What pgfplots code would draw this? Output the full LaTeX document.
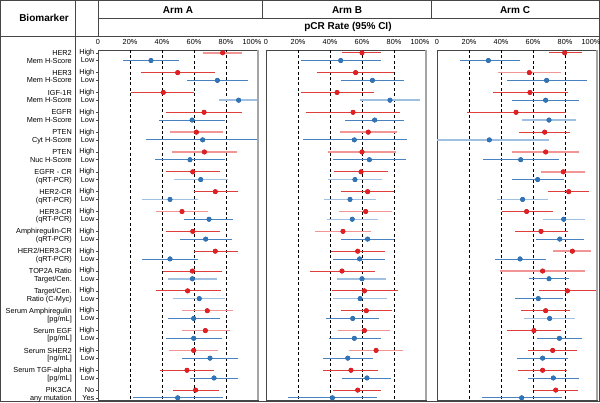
\documentclass[border=0pt]{standalone}
\usepackage{fontspec}
\setmainfont{Liberation Sans}
\usepackage{pgfplots}
\pgfplotsset{compat=1.18}
\usepackage{pgfplotstable}

\definecolor{rdot}{RGB}{226,32,36}
\definecolor{rline}{RGB}{224,62,58}
\definecolor{rlight}{RGB}{241,150,148}
\definecolor{bdot}{RGB}{48,117,185}
\definecolor{bline}{RGB}{72,130,192}
\definecolor{blight}{RGB}{160,192,226}
\definecolor{frame}{RGB}{70,70,70}
\definecolor{edge}{RGB}{165,165,165}

\newcommand{\tf}{\fontsize{7.3}{8}\selectfont}
\newcommand{\hf}{\fontsize{10}{12}\selectfont\bfseries}

% g = biomarker index, est = pCR rate, lo/hi = 95% CI, s = light line (1) or dark (0)
\pgfplotstableread{
g est lo hi s
0 77.9 65.8 89.8 1
1 49.8 26.9 73.1 0
2 40.8 20.4 60.0 0
3 66.3 42.5 89.8 0
4 61.5 45.0 77.9 1
5 66.5 46.3 86.7 1
6 59.2 42.5 76.3 0
7 73.3 60.0 87.3 0
8 52.5 36.3 68.5 1
9 59.2 42.5 76.3 0
10 73.3 60.2 87.3 0
11 59.0 40.4 77.5 0
12 56.0 36.3 76.7 0
13 68.3 52.5 84.6 1
14 67.1 52.3 82.5 1
15 59.8 44.6 74.8 1
16 55.6 38.8 72.3 0
17 61.0 47.1 75.6 0
}\AHigh
\pgfplotstableread{
g est lo hi s
0 33.1 15.4 50.8 0
1 74.6 55.8 93.5 0
2 87.9 75.8 99.2 1
3 58.8 38.1 79.6 0
4 65.4 30.0 100 0
5 57.5 35.8 79.6 0
6 64.2 47.5 81.0 1
7 45.0 27.7 62.3 1
8 69.4 53.9 84.6 0
9 67.3 51.3 83.5 0
10 45.0 27.7 62.3 0
11 59.0 43.5 74.2 1
12 63.3 47.1 79.4 1
13 59.8 43.5 76.0 0
14 59.8 42.5 77.5 0
15 70.0 52.7 87.3 0
16 72.5 57.5 87.7 0
17 49.8 21.7 77.9 0
}\ALow
\pgfplotstableread{
g est lo hi s
0 60.0 47.3 71.9 0
1 56.0 32.1 79.8 0
2 44.4 21.9 67.3 0
3 54.4 25.0 83.8 0
4 63.9 46.5 81.7 1
5 60.0 38.5 81.0 1
6 59.4 42.3 76.0 0
7 63.5 46.9 79.8 0
8 62.3 45.6 79.0 1
9 48.1 30.6 65.6 1
10 57.3 40.4 74.2 0
11 47.5 27.5 68.1 0
12 61.5 41.0 82.3 0
13 62.7 46.9 78.5 0
14 61.5 45.2 77.5 1
15 68.8 51.9 85.4 1
16 53.1 35.8 70.2 0
17 57.3 42.1 71.7 0
}\BHigh
\pgfplotstableread{
g est lo hi s
0 46.7 21.9 71.9 0
1 66.5 46.9 86.5 0
2 77.5 58.8 96.5 1
3 67.9 49.4 86.0 0
4 55.2 23.3 87.9 0
5 64.6 42.1 87.3 0
6 55.6 39.0 72.3 1
7 52.5 36.3 68.8 1
8 53.9 38.1 69.8 1
9 63.5 46.9 79.8 0
10 58.5 42.1 74.2 0
11 60.0 44.4 74.8 1
12 58.8 41.9 75.4 1
13 54.2 37.7 70.8 0
14 55.2 39.4 71.7 0
15 51.1 35.8 66.7 0
16 63.1 47.7 78.1 0
17 41.5 14.0 69.2 0
}\BLow
\pgfplotstableread{
g est lo hi s
0 79.8 69.8 90.8 0
1 57.7 38.3 77.3 1
2 58.1 34.8 81.7 0
3 49.4 18.5 80.4 0
4 67.3 51.5 83.3 0
5 67.9 46.9 88.8 1
6 78.9 65.2 92.5 1
7 82.3 69.6 95.0 0
8 56.0 40.4 72.3 0
9 65.0 48.8 81.7 0
10 84.6 72.7 96.5 1
11 66.0 39.4 92.5 1
12 81.5 63.5 100 0
13 67.9 52.5 83.3 0
14 60.6 43.5 77.5 0
15 72.3 57.1 87.3 0
16 66.0 50.8 81.3 0
17 74.2 60.8 87.9 0
}\CHigh
\pgfplotstableread{
g est lo hi s
0 32.1 14.4 51.9 0
1 68.5 43.9 93.5 0
2 67.9 46.9 88.8 0
3 70.0 52.9 86.7 1
4 32.7 0.0 70.2 1
5 52.3 28.9 76.0 0
6 62.9 46.9 79.6 0
7 53.5 37.7 69.6 1
8 79.2 66.5 92.7 1
9 76.7 61.9 91.7 0
10 51.9 36.5 67.9 0
11 70.0 57.5 82.5 0
12 63.3 48.8 78.9 0
13 70.4 54.6 86.5 1
14 76.5 62.7 90.6 0
15 66.0 50.2 82.1 0
16 72.7 57.1 88.5 0
17 52.9 27.9 78.1 0
}\CLow

\newcommand{\forestrows}[5]{%
 \addplot[forget plot, only marks, mark=none,
   restrict expr to domain={\thisrow{s}}{-0.5:0.5},
   error bars/.cd, x dir=both, x explicit, error mark=none,
   error bar style={draw=#3, line width=0.8pt}]
   table[x=est, y expr=\thisrow{g}+#2,
     x error plus expr=\thisrow{hi}-\thisrow{est},
     x error minus expr=\thisrow{est}-\thisrow{lo}] {#1};
 \addplot[forget plot, only marks, mark=none,
   restrict expr to domain={\thisrow{s}}{0.5:1.5},
   error bars/.cd, x dir=both, x explicit, error mark=none,
   error bar style={draw=#4, line width=1.5pt}]
   table[x=est, y expr=\thisrow{g}+#2,
     x error plus expr=\thisrow{hi}-\thisrow{est},
     x error minus expr=\thisrow{est}-\thisrow{lo}] {#1};
 \addplot[forget plot, only marks, mark=*, mark size=2.3pt, draw=#5, fill=#5]
   table[x=est, y expr=\thisrow{g}+#2] {#1};
}
\newcommand{\reflines}{%
 \addplot[forget plot, black, line width=0.8pt, dash pattern=on 3pt off 2.4pt] coordinates {(20,-0.14) (20,17.5)};
 \addplot[forget plot, black, line width=0.8pt, dash pattern=on 3pt off 2.4pt] coordinates {(40,-0.14) (40,17.5)};
 \addplot[forget plot, black, line width=0.8pt, dash pattern=on 3pt off 2.4pt] coordinates {(60,-0.14) (60,17.5)};
 \addplot[forget plot, black, line width=0.8pt, dash pattern=on 3pt off 2.4pt] coordinates {(80,-0.14) (80,17.5)};
}
\newcommand{\rightedge}{%
 \draw[edge, line width=1.6pt] (rel axis cs:1,0) -- (rel axis cs:1,1);
}
\newcommand{\bm}[4]{%
 \node[anchor=base east, inner sep=0pt, font=\tf, yshift=-2.6pt, xshift=-26pt] at (axis cs:0,#1) {#3};
 \node[anchor=base east, inner sep=0pt, font=\tf, yshift=-2.6pt, xshift=-26pt] at (axis cs:0,#2) {#4};
}

\pgfplotsset{
 arm/.style={
   width=160pt, height=350pt, scale only axis, anchor=north west,
   xmin=0, xmax=100, ymin=-0.14, ymax=17.5, y dir=reverse,
   xtick={0,20,40,60,80,100},
   xticklabels={0,20\%,40\%,60\%,80\%,{\makebox[0pt][c]{\kern-12pt\relax 100\%}}},
   xticklabel pos=upper, xtick style={draw=none},
   tick align=outside, major tick length=2pt,
   ytick=\empty,
   ticklabel style={font=\tf},
   /pgf/number format/assume math mode=true,
   axis line style={frame, line width=0.6pt},
   clip mode=individual,
 }
}

\begin{document}
\begin{tikzpicture}
\useasboundingbox (0pt,0pt) rectangle (600pt,-402pt);

% table lines
\begin{scope}[frame, line width=0.7pt]
\draw (0.35pt,-0.35pt) rectangle (599.65pt,-401.65pt);
\draw (0pt,-36pt) -- (600pt,-36pt);
\draw (98pt,-18pt) -- (600pt,-18pt);
\draw (75pt,0pt) -- (75pt,-402pt);
\draw (98pt,0pt) -- (98pt,-36pt);
\draw (262pt,0pt) -- (262pt,-18pt);
\draw (431pt,0pt) -- (431pt,-18pt);
\end{scope}

\node[font=\hf] at (44pt,-17.5pt) {Biomarker};
\node[font=\hf] at (178pt,-10pt) {Arm A};
\node[font=\hf] at (347pt,-10pt) {Arm B};
\node[font=\hf] at (515pt,-10pt) {Arm C};
\node[font=\hf] at (348pt,-27pt) {pCR Rate (95\% CI)};

% Arm A
\begin{axis}[arm, at={(98pt,-50pt)},
  ytick={0,0.39,1,1.39,2,2.39,3,3.39,4,4.39,5,5.39,6,6.39,7,7.39,8,8.39,9,9.39,10,10.39,11,11.39,12,12.39,13,13.39,14,14.39,15,15.39,16,16.39,17,17.39},
  yticklabels={High,Low,High,Low,High,Low,High,Low,High,Low,High,Low,High,Low,High,Low,High,Low,High,Low,High,Low,High,Low,High,Low,High,Low,High,Low,High,Low,High,Low,No,Yes},
  ytick pos=left, ytick style={frame, line width=0.5pt},
  yticklabel style={inner sep=1.5pt}]
\reflines
\forestrows{\AHigh}{0}{rline}{rlight}{rdot}
\forestrows{\ALow}{0.39}{bline}{blight}{bdot}
\rightedge
\bm{0}{0.39}{HER2}{Mem H-Score}
\bm{1}{1.39}{HER3}{Mem H-Score}
\bm{2}{2.39}{IGF-1R}{Mem H-Score}
\bm{3}{3.39}{EGFR}{Mem H-Score}
\bm{4}{4.39}{PTEN}{Cyt H-Score}
\bm{5}{5.39}{PTEN}{Nuc H-Score}
\bm{6}{6.39}{EGFR - CR}{(qRT-PCR)}
\bm{7}{7.39}{HER2-CR}{(qRT-PCR)}
\bm{8}{8.39}{HER3-CR}{(qRT-PCR)}
\bm{9}{9.39}{Amphiregulin-CR}{(qRT-PCR)}
\bm{10}{10.39}{HER2/HER3-CR}{(qRT-PCR)}
\bm{11}{11.39}{TOP2A Ratio}{Target/Cen.}
\bm{12}{12.39}{Target/Cen.}{Ratio (C-Myc)}
\bm{13}{13.39}{Serum Amphiregulin}{[pg/mL]}
\bm{14}{14.39}{Serum EGF}{[pg/mL]}
\bm{15}{15.39}{Serum SHER2}{[ng/mL]}
\bm{16}{16.39}{Serum TGF-alpha}{[pg/mL]}
\bm{17}{17.39}{PIK3CA}{any mutation}
\end{axis}

% Arm B
\begin{axis}[arm, at={(266pt,-50pt)}]
\reflines
\forestrows{\BHigh}{0}{rline}{rlight}{rdot}
\forestrows{\BLow}{0.39}{bline}{blight}{bdot}
\rightedge
\end{axis}

% Arm C
\begin{axis}[arm, at={(437pt,-50pt)}]
\reflines
\forestrows{\CHigh}{0}{rline}{rlight}{rdot}
\forestrows{\CLow}{0.39}{bline}{blight}{bdot}
\rightedge
\end{axis}
\end{tikzpicture}
\end{document}
